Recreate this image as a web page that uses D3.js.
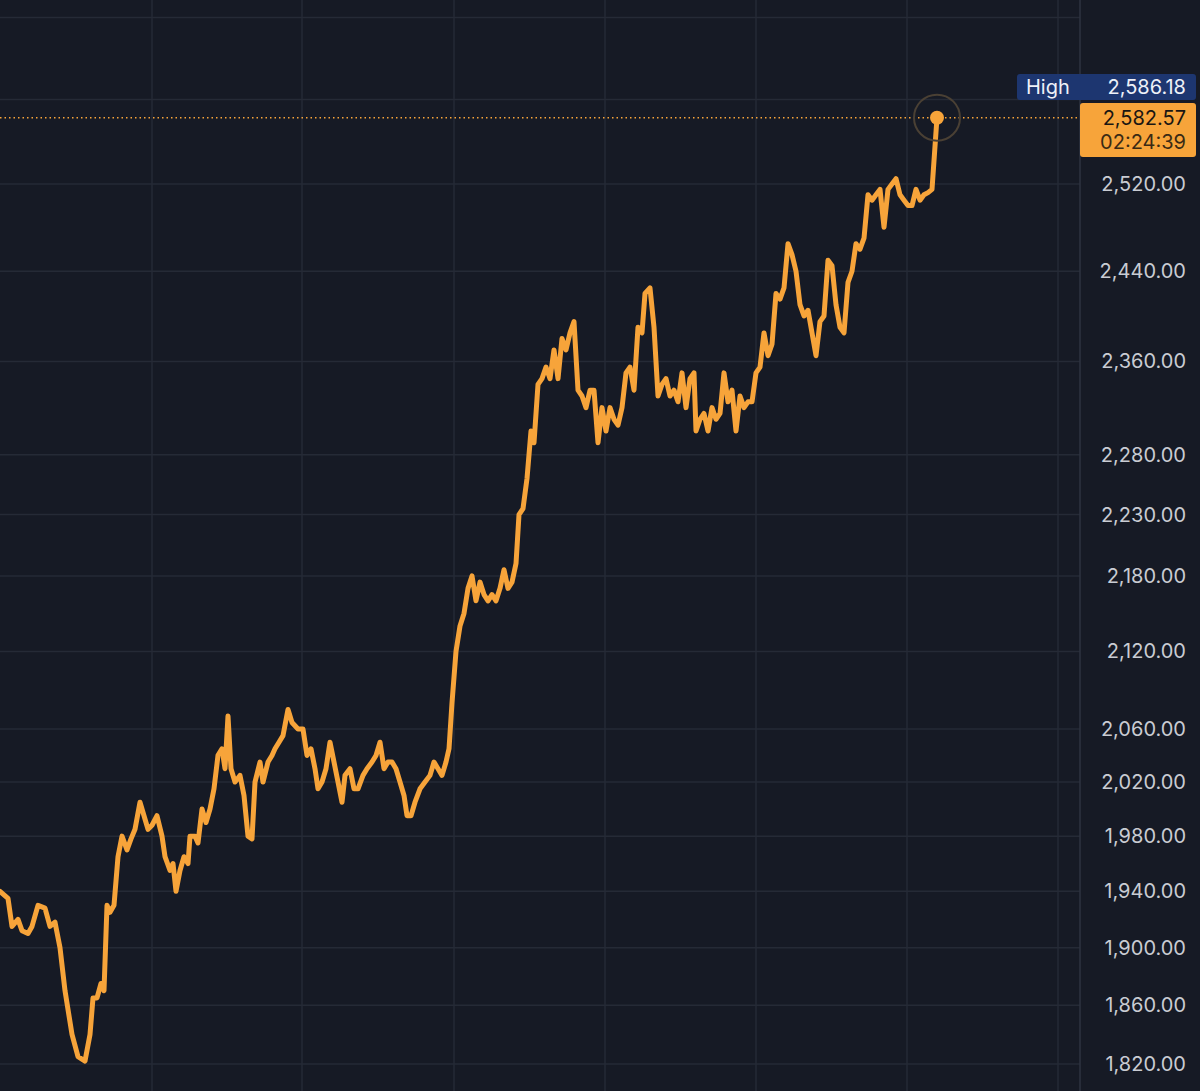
<!DOCTYPE html>
<html><head><meta charset="utf-8">
<script src="https://cdn.jsdelivr.net/npm/d3@7"></script>
<style>body{margin:0;background:#161a25;}svg{display:block;font-family:"Inter","Roboto",sans-serif;}</style>
</head><body><div class="chart"></div>
<script>
var prices = [1940,1935,1915,1920,1912,1910,1915,1930,1928,1915,1918,1900,1870,1840,1825,1822,1840,1865,1865,1875,1870,1930,1925,1930,1965,1980,1970,1978,1985,2005,1995,1985,1988,1995,1980,1965,1955,1960,1940,1955,1965,1960,1980,1980,1975,2000,1990,2000,2015,2040,2045,2030,2070,2030,2020,2025,2010,1980,1978,2020,2035,2020,2035,2040,2045,2050,2055,2075,2065,2060,2060,2040,2045,2030,2015,2020,2030,2050,2035,2020,2005,2025,2030,2015,2015,2025,2030,2035,2040,2050,2030,2035,2035,2030,2020,2010,1995,1995,2005,2015,2020,2025,2035,2030,2025,2035,2045,2080,2120,2140,2150,2170,2180,2160,2175,2165,2160,2165,2160,2170,2185,2170,2175,2190,2230,2235,2260,2300,2290,2340,2345,2355,2345,2370,2345,2380,2370,2385,2395,2335,2330,2320,2335,2335,2290,2320,2300,2320,2310,2305,2320,2350,2355,2335,2390,2385,2420,2425,2390,2330,2340,2345,2330,2335,2325,2350,2320,2345,2350,2300,2310,2315,2300,2320,2310,2315,2350,2325,2335,2300,2330,2320,2325,2325,2350,2355,2385,2365,2375,2420,2415,2425,2465,2455,2440,2410,2400,2405,2385,2365,2395,2400,2450,2445,2410,2390,2385,2430,2440,2465,2460,2470,2510,2505,2510,2515,2480,2515,2520,2525,2510,2505,2500,2500,2515,2505,2510,2512,2515,2582.57];
// time of each sample (in chart bars)
var times = [0,8,12,18,22,28,32,38,45,50,55,60,65,72,78,85,90,93,97,101,104,107,110,114,118,122,127,131,135,140,144,148,152,157,162,165,170,173,176,180,184,188,190,195,198,202,206,210,214,218,222,225,228,231,235,240,244,248,252,255,260,263,268,272,275,279,283,288,292,298,303,307,311,315,318,322,326,330,334,338,342,345,350,354,358,363,367,372,376,380,384,388,392,396,400,404,407,411,415,420,425,430,434,438,442,446,449,452,456,460,464,468,472,476,480,484,488,492,496,500,504,508,512,516,519,523,527,531,534,538,542,546,550,554,558,562,566,570,574,578,582,586,590,594,598,602,606,610,614,618,622,626,630,634,638,642,645,650,654,658,662,666,670,674,678,682,686,690,694,696,700,704,708,712,716,720,724,728,732,736,740,744,748,752,756,760,764,768,772,776,780,784,788,792,796,800,804,808,812,816,820,824,828,832,836,840,844,848,852,856,860,864,868,872,876,880,884,888,892,896,900,904,908,912,916,920,924,928,932,937];
var yTicks = [2520,2440,2360,2280,2230,2180,2120,2060,2020,1980,1940,1900,1860,1820];
var highValue = 2586.18;
var lastValue = 2582.57;
var countdown = "02:24:39";

var width = 1200, height = 1091, plotRight = 1080;
var svg = d3.select(".chart").append("svg").attr("width", width).attr("height", height);
svg.append("rect").attr("width", width).attr("height", height).attr("fill", "#161a25");

var y = d3.scaleLog().domain([1820, 2520]).range([1064, 184]);
var x = d3.scaleLinear().domain([0, 937]).range([0, 937]);
var fmt = d3.format(",.2f");

// grid
var vlines = [152, 302, 454, 605, 756, 907, 1058];
svg.selectAll(".vg").data(vlines).enter().append("line")
  .attr("x1", d => d).attr("x2", d => d).attr("y1", 0).attr("y2", height)
  .attr("stroke", "#252a36").attr("stroke-width", 1.5);
svg.selectAll(".hg").data(yTicks.concat([2600, 2680])).enter().append("line")
  .attr("x1", 0).attr("x2", plotRight).attr("y1", d => y(d)).attr("y2", d => y(d))
  .attr("stroke", "#252a36").attr("stroke-width", 1.5);
svg.append("line").attr("x1", plotRight).attr("x2", plotRight).attr("y1", 0).attr("y2", height)
  .attr("stroke", "#2e3340").attr("stroke-width", 1.5);

// axis labels
svg.selectAll(".yl").data(yTicks).enter().append("text")
  .attr("x", 1186).attr("y", d => y(d)).attr("dy", "0.35em").attr("text-anchor", "end")
  .attr("fill", "#c9ccd3").attr("font-size", 20).text(d => fmt(d));

// last price line
svg.append("line").attr("x1", 0).attr("x2", plotRight).attr("y1", y(lastValue)).attr("y2", y(lastValue))
  .attr("stroke", "#f7a43a").attr("stroke-width", 1.5).attr("stroke-dasharray", "1.5,3");

// series
svg.append("path").datum(prices)
  .attr("d", d3.line().x((d, i) => x(times[i])).y(d => y(d)))
  .attr("fill", "none").attr("stroke", "#f7a43a").attr("stroke-width", 5)
  .attr("stroke-linejoin", "round").attr("stroke-linecap", "round");

var lx = x(times[times.length - 1]), ly = y(lastValue);
svg.append("circle").attr("cx", lx).attr("cy", ly).attr("r", 23)
  .attr("fill", "none").attr("stroke", "#4a4034").attr("stroke-width", 2);
svg.append("circle").attr("cx", lx).attr("cy", ly).attr("r", 7).attr("fill", "#f7a43a");

// high box
svg.append("rect").attr("x", 1017).attr("y", 74).attr("width", 179).attr("height", 26).attr("rx", 3).attr("fill", "#1d3670");
svg.append("text").attr("x", 1026).attr("y", 87).attr("dy", "0.35em").attr("fill", "#eef1f8").attr("font-size", 20).text("High");
svg.append("text").attr("x", 1186).attr("y", 87).attr("dy", "0.35em").attr("text-anchor", "end").attr("fill", "#eef1f8").attr("font-size", 20).text(fmt(highValue));

// last price box
svg.append("rect").attr("x", 1080).attr("y", 103).attr("width", 116).attr("height", 54).attr("rx", 3).attr("fill", "#f7a43a");
svg.append("text").attr("x", 1186).attr("y", 118).attr("dy", "0.35em").attr("text-anchor", "end").attr("fill", "#1a1612").attr("font-size", 20).text(fmt(lastValue));
svg.append("text").attr("x", 1186).attr("y", 142).attr("dy", "0.35em").attr("text-anchor", "end").attr("fill", "#3a2a14").attr("font-size", 20).text(countdown);
</script>
</body></html>
